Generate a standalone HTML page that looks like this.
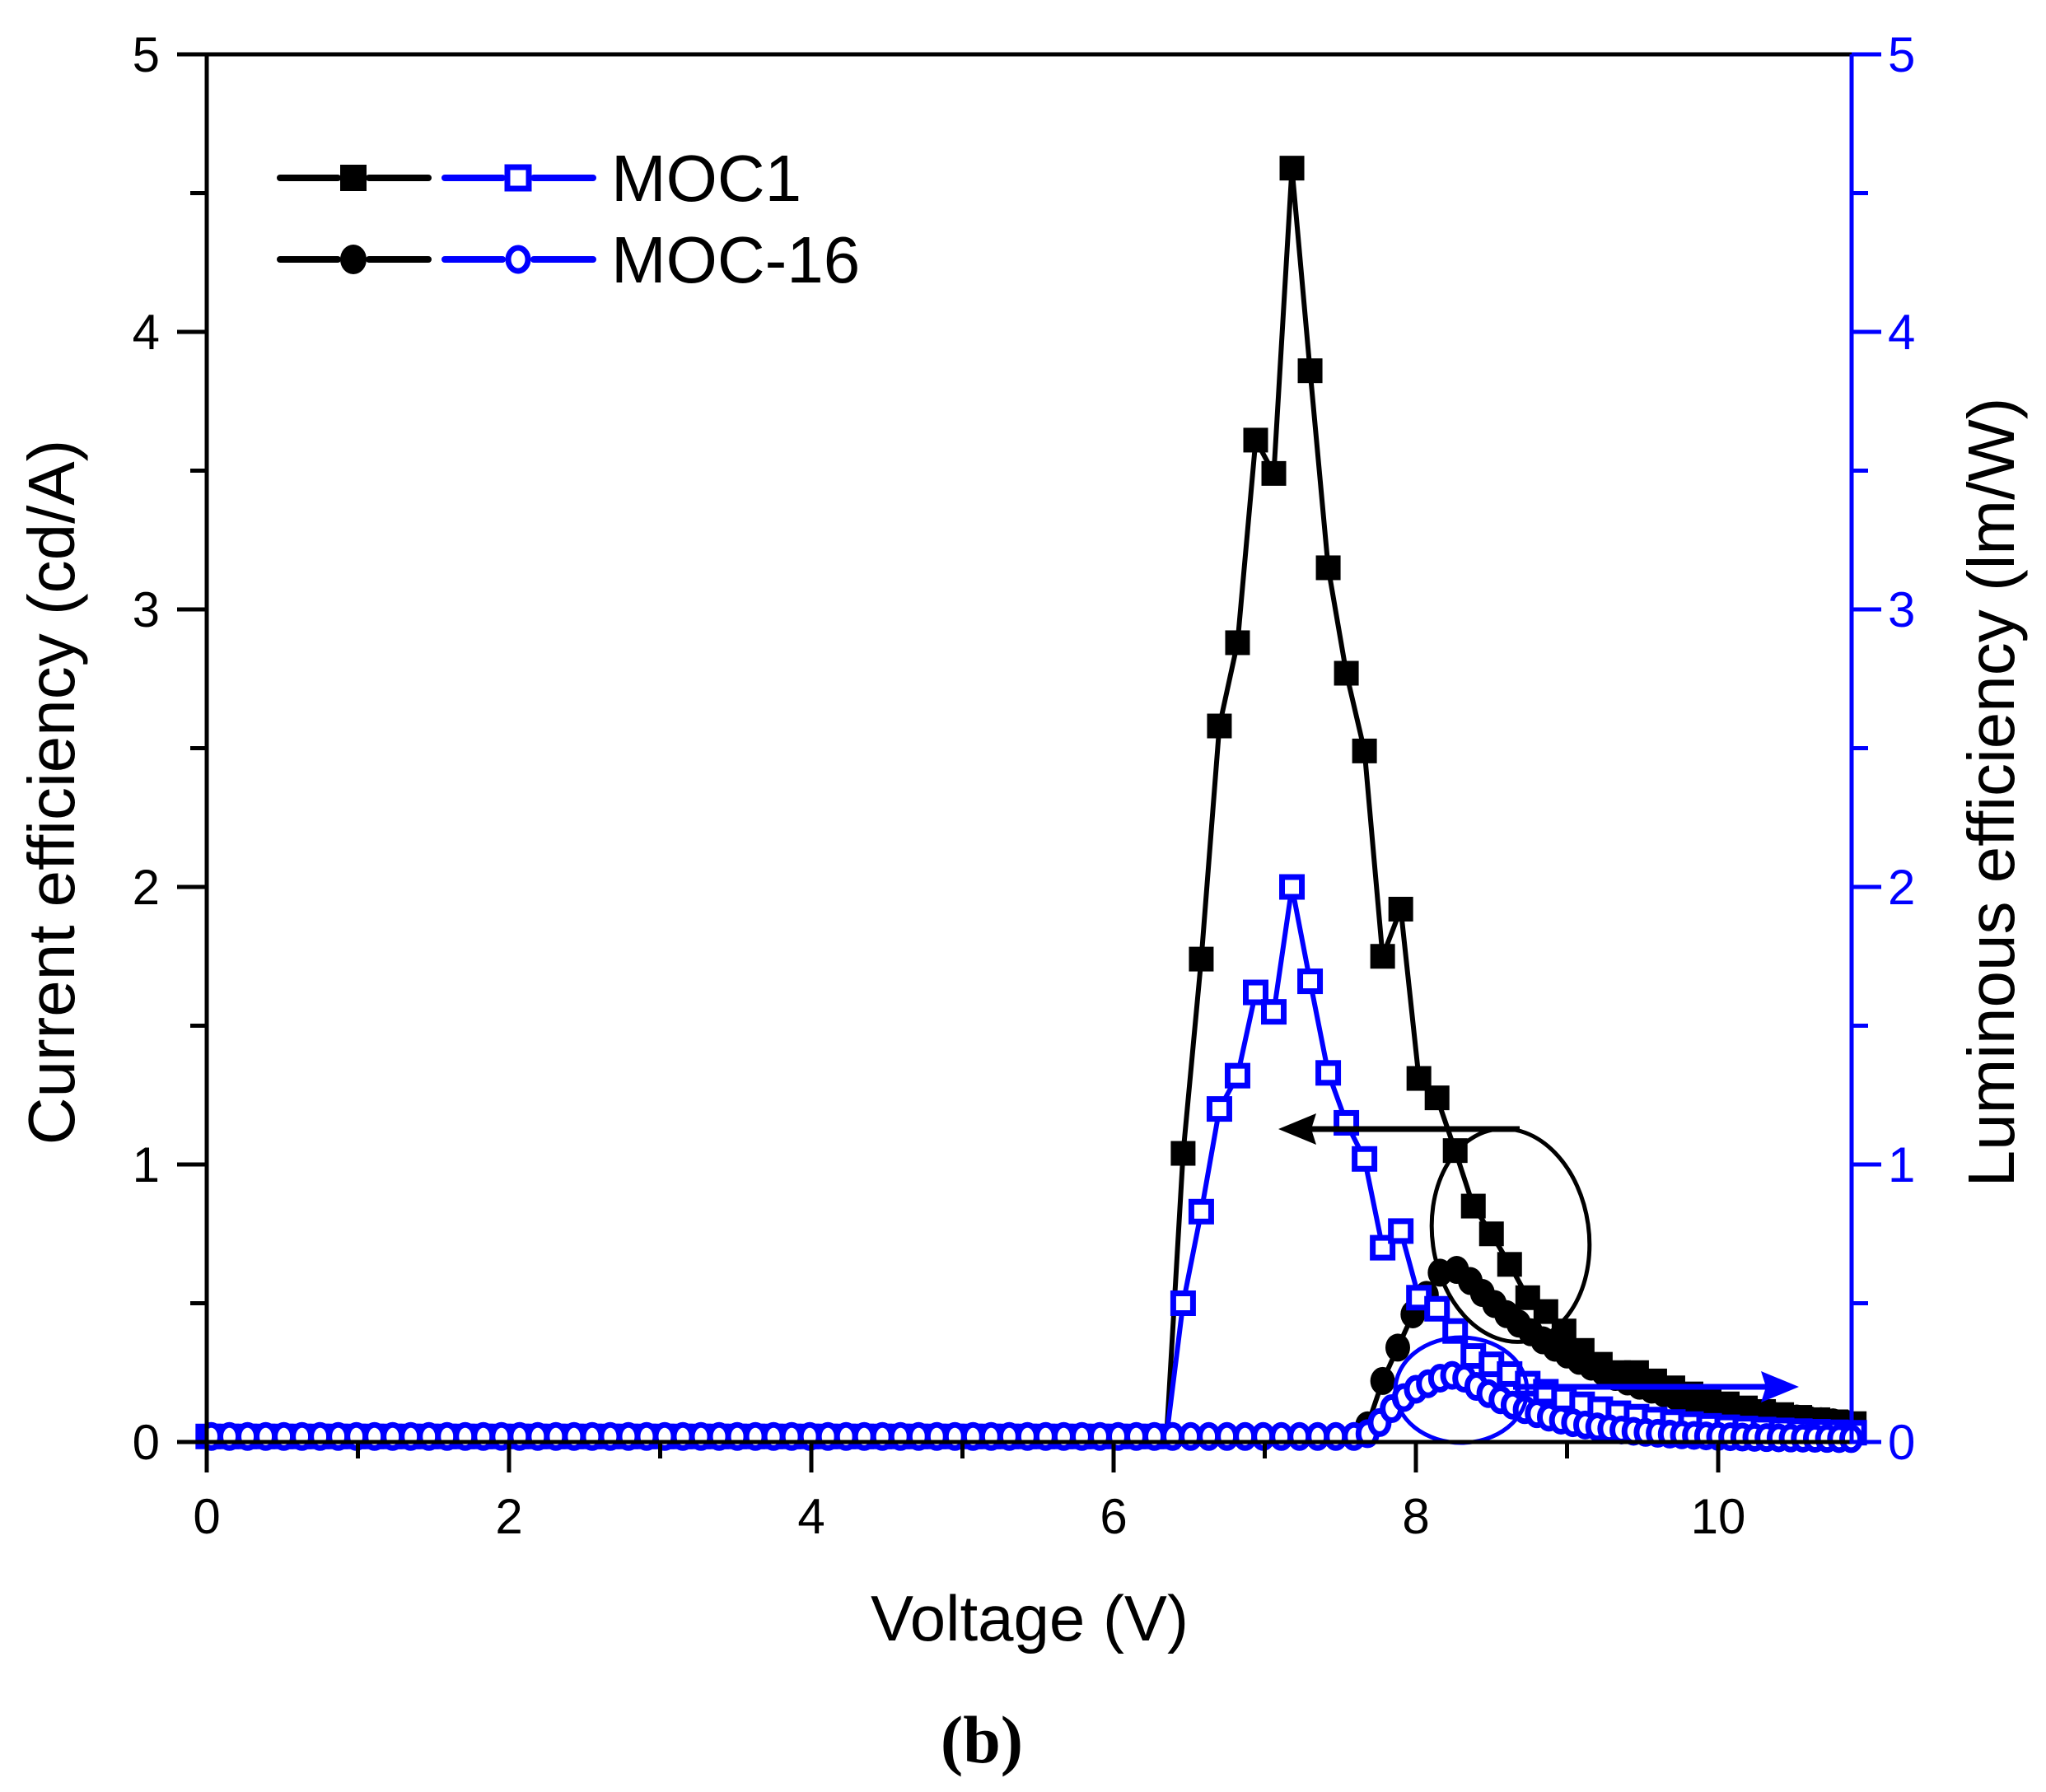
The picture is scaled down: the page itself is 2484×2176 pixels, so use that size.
<!DOCTYPE html>
<html><head><meta charset="utf-8"><style>
html,body{margin:0;padding:0;background:#fff;}
svg{display:block;}
text{font-family:"Liberation Sans",sans-serif;}
</style></head><body>
<svg id="s" width="2484" height="2176" viewBox="0 0 2484 2176" xmlns="http://www.w3.org/2000/svg">
<rect width="2484" height="2176" fill="#fff"/>
<g id="plot"></g>
<g stroke="#000" stroke-width="5" fill="none">
<line x1="251" y1="66" x2="2248" y2="66"/>
<line x1="251" y1="66" x2="251" y2="1753"/>
<line x1="215" y1="1751" x2="2248" y2="1751"/>
</g>
<line x1="2248" y1="66" x2="2248" y2="1753" stroke="#00f" stroke-width="5"/>
<g id="ticks"></g>
<g font-size="60" fill="#000" text-anchor="middle">
<text x="251" y="1862">0</text><text x="618" y="1862">2</text><text x="985" y="1862">4</text>
<text x="1352" y="1862">6</text><text x="1719" y="1862">8</text><text x="2086" y="1862">10</text>
</g>
<g font-size="60" fill="#000" text-anchor="end">
<text x="194" y="1772">0</text><text x="194" y="1435">1</text><text x="194" y="1098">2</text>
<text x="194" y="761">3</text><text x="194" y="424">4</text><text x="194" y="87">5</text>
</g>
<g font-size="60" fill="#00f" text-anchor="start">
<text x="2292" y="1772">0</text><text x="2292" y="1435">1</text><text x="2292" y="1098">2</text>
<text x="2292" y="761">3</text><text x="2292" y="424">4</text><text x="2292" y="87">5</text>
</g>
<text x="1250" y="1992" font-size="78" text-anchor="middle">Voltage (V)</text>
<text transform="translate(90,962) rotate(-90)" font-size="80" text-anchor="middle">Current efficiency (cd/A)</text>
<text transform="translate(2445,962) rotate(-90)" font-size="80" text-anchor="middle">Luminous efficiency (lm/W)</text>
<text x="1192" y="2140" font-size="82" font-weight="bold" text-anchor="middle" style="font-family:'Liberation Serif',serif">(b)</text>
<g stroke-linecap="round" stroke-width="8">
<line x1="340" y1="216" x2="410" y2="216" stroke="#000"/><line x1="448" y1="216" x2="520" y2="216" stroke="#000"/>
<line x1="540" y1="216" x2="610" y2="216" stroke="#00f"/><line x1="648" y1="216" x2="720" y2="216" stroke="#00f"/>
<line x1="340" y1="315" x2="410" y2="315" stroke="#000"/><line x1="448" y1="315" x2="520" y2="315" stroke="#000"/>
<line x1="540" y1="315" x2="610" y2="315" stroke="#00f"/><line x1="648" y1="315" x2="720" y2="315" stroke="#00f"/>
</g>
<rect x="413" y="200" width="32" height="32" fill="#000"/>
<rect x="616" y="203" width="26" height="26" fill="#fff" stroke="#00f" stroke-width="7"/>
<ellipse cx="429" cy="315" rx="16" ry="18" fill="#000"/>
<ellipse cx="629" cy="315" rx="12" ry="14" fill="#fff" stroke="#00f" stroke-width="7"/>
<text x="742" y="244" font-size="80">MOC1</text>
<text x="742" y="343" font-size="80">MOC-16</text>
</svg>
<script>
var NS="http://www.w3.org/2000/svg";
function px(v){return 251+183.5*v;} function py(y){return 1751-337*y;}
var g=document.getElementById('plot'), tk=document.getElementById('ticks');
function el(n,a,p){var e=document.createElementNS(NS,n);for(var k in a)e.setAttribute(k,a[k]);(p||g).appendChild(e);return e;}
for(var i=0;i<=10;i++){var x=px(i);el('line',{x1:x,y1:1751,x2:x,y2:i%2==0?1788:1771,stroke:'#000','stroke-width':5},tk);}
for(var j=0;j<=10;j++){var y=py(j*0.5);var L=j%2==0?36:20;
el('line',{x1:251-L,y1:y,x2:251,y2:y,stroke:'#000','stroke-width':5},tk);
el('line',{x1:2248,y1:y,x2:2248+L,y2:y,stroke:'#00f','stroke-width':5},tk);}
var sqK=[],sqB=[],ciK=[],ciB=[];
var step=0.12;
for(var v=0.01;v<6.3;v+=step){sqK.push([v,0.02]);sqB.push([v,0.02]);}
var pk=[[6.35,0.02],[6.46,1.04],[6.58,1.74],[6.70,2.58],[6.82,2.88],[6.94,3.61],[7.06,3.49],[7.18,4.59],[7.30,3.86],[7.42,3.15],[7.54,2.77],[7.66,2.49],[7.78,1.75],[7.90,1.92],[8.02,1.31],[8.14,1.24],[8.26,1.05],[8.38,0.85],[8.50,0.75],[8.62,0.64],[8.74,0.52],[8.86,0.47],[8.98,0.40],[9.10,0.33],[9.22,0.28],[9.34,0.25],[9.46,0.25],[9.58,0.22]];
pk.forEach(function(p){sqK.push(p);});
for(var v=9.70;v<10.9;v+=step){sqK.push([v,0.2*Math.exp(-(v-9.58)/0.9)+0.02]);}
var pb=[[6.35,0.02],[6.46,0.50],[6.58,0.83],[6.70,1.20],[6.82,1.32],[6.94,1.62],[7.06,1.55],[7.18,2.0],[7.30,1.66],[7.42,1.33],[7.54,1.15],[7.66,1.02],[7.78,0.70],[7.90,0.76],[8.02,0.52],[8.14,0.48],[8.26,0.40],[8.38,0.31],[8.50,0.28]];
pb.forEach(function(p){sqB.push(p);});
for(var v=8.62;v<10.9;v+=step){sqB.push([v,0.22*Math.exp(-(v-8.62)/0.7)+0.025]);}
for(var v=0.03;v<7.68;v+=0.12){ciK.push([v,0.02]);ciB.push([v,0.02]);}
var ck=[[7.68,0.06],[7.78,0.22],[7.88,0.34],[7.98,0.46],[8.07,0.53],[8.16,0.61],[8.27,0.62]];
ck.forEach(function(p){ciK.push(p);});
for(var v=8.36;v<10.9;v+=0.08){ciK.push([v,0.56*Math.exp(-(v-8.36)/1.0)+0.02]);}
var cb=[[7.68,0.03],[7.76,0.07],[7.84,0.12],[7.92,0.16],[8.0,0.19],[8.08,0.21],[8.16,0.23],[8.24,0.24],[8.32,0.23]];
cb.forEach(function(p){ciB.push(p);});
for(var v=8.40;v<10.9;v+=0.08){ciB.push([v,0.22*Math.exp(-(v-8.32)/0.55)+0.01]);}
function line(arr,col){el('polyline',{points:arr.map(function(p){return px(p[0])+','+py(p[1]);}).join(' '),fill:'none',stroke:col,'stroke-width':6});}
line(sqK,'#000');line(ciK,'#000');
sqK.forEach(function(p){el('rect',{x:px(p[0])-15,y:py(p[1])-15,width:30,height:30,fill:'#000'});});
ciK.forEach(function(p){el('ellipse',{cx:px(p[0]),cy:py(p[1]),rx:15,ry:17,fill:'#000'});});
line(sqB,'#00f');line(ciB,'#00f');
sqB.forEach(function(p){el('rect',{x:px(p[0])-12,y:py(p[1])-12,width:24,height:24,fill:'#fff',stroke:'#00f','stroke-width':7});});
ciB.forEach(function(p){el('ellipse',{cx:px(p[0]),cy:py(p[1]),rx:11,ry:14,fill:'#fff',stroke:'#00f','stroke-width':7});});
el('ellipse',{cx:1834,cy:1500,rx:95,ry:130,fill:'none',stroke:'#000','stroke-width':5,transform:'rotate(-8 1834 1500)'});
el('line',{x1:1845,y1:1371,x2:1580,y2:1371,stroke:'#000','stroke-width':7});
el('polygon',{points:'1552,1371 1598,1352 1592,1371 1598,1390',fill:'#000'});
el('ellipse',{cx:1774,cy:1688,rx:80,ry:64,fill:'none',stroke:'#00f','stroke-width':5});
el('line',{x1:1837,y1:1684,x2:2160,y2:1684,stroke:'#00f','stroke-width':7});
el('polygon',{points:'2184,1684 2138,1665 2144,1684 2138,1703',fill:'#00f'});
</script>
</body></html>
